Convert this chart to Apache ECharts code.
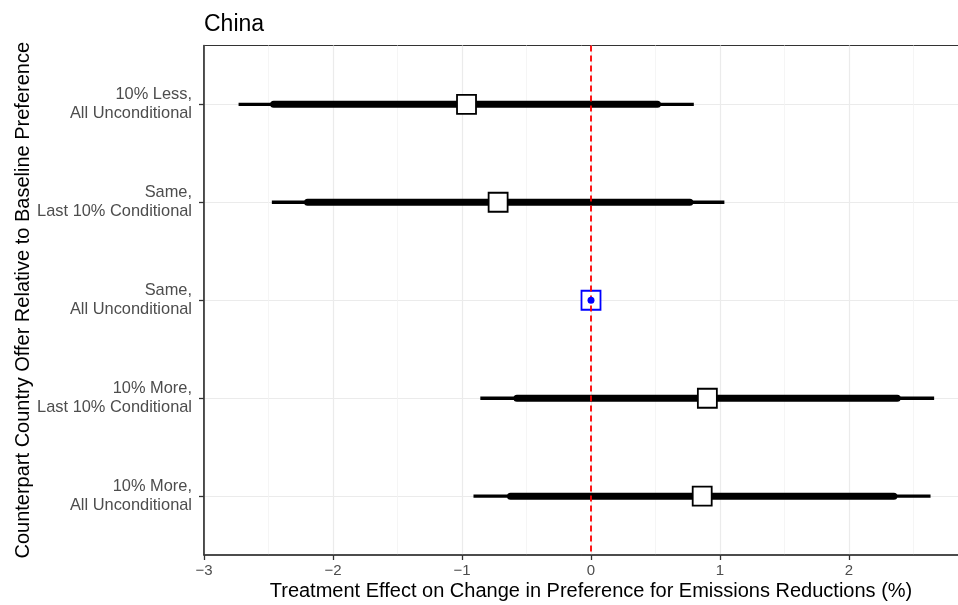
<!DOCTYPE html>
<html>
<head>
<meta charset="utf-8">
<script src="https://cdn.jsdelivr.net/npm/echarts@6/dist/echarts.min.js"></script>
<style>
html,body{margin:0;padding:0;background:#fff;}
#chart{width:958px;height:605px;}
</style>
</head>
<body>
<div id="chart"></div>
<script>
// Categories, top to bottom (row positions 1..5)
const categories = [
  "10% Less,\nAll Unconditional",
  "Same,\nLast 10% Conditional",
  "Same,\nAll Unconditional",
  "10% More,\nLast 10% Conditional",
  "10% More,\nAll Unconditional"
];
const rowIndex = [1, 2, 3, 4, 5];
const estimates = [-0.965, -0.72, 0, 0.902, 0.862];
const thickLow  = [-2.46, -2.197, null, -0.574, -0.624];
const thickHigh = [0.515, 0.766, null, 2.374, 2.348];
const thinLow   = [-2.732, -2.474, null, -0.858, -0.911];
const thinHigh  = [0.797, 1.034, null, 2.66, 2.632];
const baselineIndex = 2; // "Same, All Unconditional" is the reference category
const xTicks = [-3, -2, -1, 0, 1, 2];

const FONT = "Liberation Sans, Arial, Helvetica, sans-serif";

const barData = [];
const pointData = [];
const baseData = [];
for (let i = 0; i < categories.length; i++) {
  if (i === baselineIndex) {
    baseData.push([estimates[i], rowIndex[i]]);
    continue;
  }
  barData.push([rowIndex[i], thinLow[i], thickLow[i], thickHigh[i], thinHigh[i]]);
  pointData.push([estimates[i], rowIndex[i]]);
}

const chart = echarts.init(document.getElementById('chart'), null, {renderer: 'canvas'});
const option = {
  animation: false,
  backgroundColor: '#ffffff',
  title: {
    text: 'China',
    left: 199,
    top: 8,
    textStyle: {fontFamily: FONT, fontSize: 23, fontWeight: 'normal', color: '#000'}
  },
  grid: {
    left: 204, width: 774, top: 45.5, bottom: 50,
    outerBoundsMode: 'none',
    containLabel: false,
    show: true, borderColor: '#333333', borderWidth: 1, backgroundColor: '#fff'
  },
  xAxis: {
    type: 'value',
    min: -3, max: 3, interval: 1,
    name: 'Treatment Effect on Change in Preference for Emissions Reductions (%)',
    nameLocation: 'middle',
    nameGap: 26,
    nameMoveOverlap: false,
    nameTextStyle: {fontFamily: FONT, fontSize: 20, color: '#000'},
    axisLine: {show: true, onZero: false, lineStyle: {color: '#333333', width: 1.6}},
    axisTick: {show: true, length: 5, lineStyle: {color: '#333333', width: 1.3}, customValues: xTicks},
    axisLabel: {
      fontFamily: FONT, fontSize: 15, color: '#4D4D4D', margin: 8,
      customValues: xTicks,
      formatter: v => String(v).replace('-', '\u2212')
    },
    splitLine: {show: true, lineStyle: {color: '#EBEBEB', width: 1.2}},
    minorTick: {show: false, splitNumber: 2},
    minorSplitLine: {show: true, lineStyle: {color: '#F2F2F2', width: 0.8}}
  },
  yAxis: {
    type: 'value',
    inverse: true,
    min: 0.4, max: 5.6,
    name: 'Counterpart Country Offer Relative to Baseline Preference',
    nameLocation: 'middle',
    nameGap: 171,
    nameMoveOverlap: false,
    nameTextStyle: {fontFamily: FONT, fontSize: 20, color: '#000'},
    axisLine: {show: true, onZero: false, lineStyle: {color: '#333333', width: 1.6}},
    axisTick: {show: true, length: 5, lineStyle: {color: '#333333', width: 1.3}, customValues: rowIndex},
    axisLabel: {
      fontFamily: FONT, fontSize: 16.4, color: '#4D4D4D', margin: 12,
      lineHeight: 19, align: 'right',
      customValues: rowIndex,
      formatter: v => categories[Math.round(v) - 1] || ''
    },
    splitLine: {show: true, lineStyle: {color: '#EBEBEB', width: 1.2}}
  },
  series: [
    {
      type: 'custom',
      name: 'ci',
      z: 2,
      renderItem: function (params, api) {
        const y = api.value(0);
        const a = api.coord([api.value(1), y]);
        const b = api.coord([api.value(2), y]);
        const c = api.coord([api.value(3), y]);
        const d = api.coord([api.value(4), y]);
        return {
          type: 'group',
          children: [
            {type: 'line', shape: {x1: a[0], y1: a[1], x2: d[0], y2: d[1]},
             style: {stroke: '#000', lineWidth: 3.3, lineCap: 'butt'}},
            {type: 'line', shape: {x1: b[0], y1: b[1], x2: c[0], y2: c[1]},
             style: {stroke: '#000', lineWidth: 7, lineCap: 'round'}}
          ]
        };
      },
      encode: {x: [1, 2, 3, 4], y: 0},
      data: barData
    },
    {
      type: 'scatter',
      name: 'estimate',
      z: 3,
      symbol: 'rect',
      symbolSize: 19,
      itemStyle: {color: '#ffffff', borderColor: '#000', borderWidth: 1.8, opacity: 1},
      data: pointData
    },
    {
      type: 'scatter',
      name: 'baseline',
      z: 3,
      symbol: 'rect',
      symbolSize: 19,
      itemStyle: {color: '#ffffff', borderColor: '#0000FF', borderWidth: 1.8, opacity: 1},
      data: baseData
    },
    {
      type: 'scatter',
      name: 'zero',
      z: 4,
      data: [],
      markLine: {
        silent: true,
        symbol: ['none', 'none'],
        label: {show: false},
        lineStyle: {color: '#FF0000', width: 1.8, type: [6, 4]},
        data: [{xAxis: 0}]
      }
    },
    {
      type: 'scatter',
      name: 'baselineDot',
      z: 5,
      symbol: 'circle',
      symbolSize: 7,
      itemStyle: {color: '#0000FF', opacity: 1},
      data: baseData
    }
  ]
};
chart.setOption(option);
</script>
</body>
</html>
